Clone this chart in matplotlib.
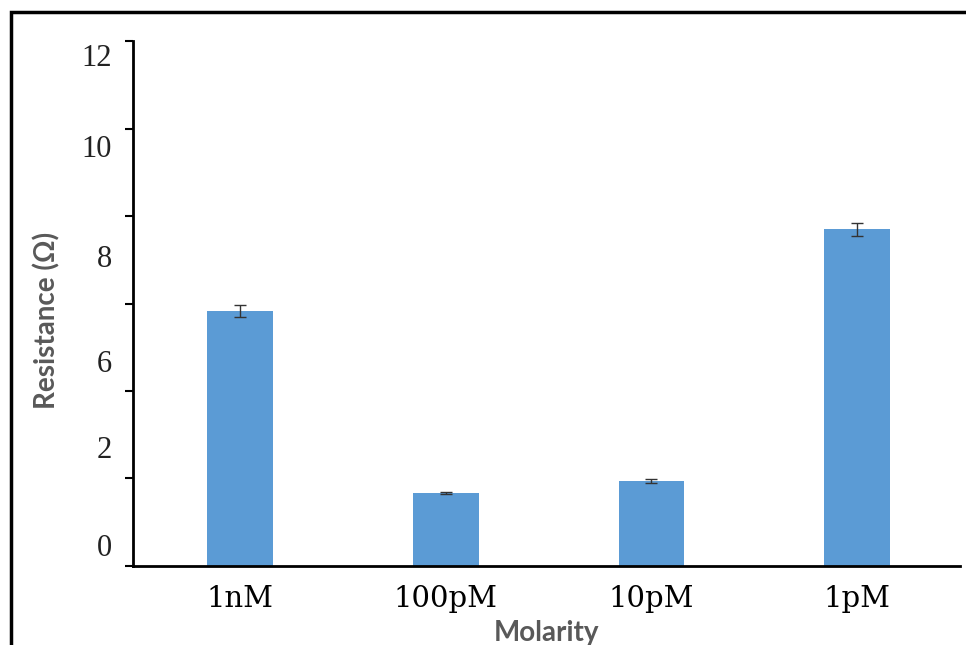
import matplotlib
matplotlib.use("Agg")
import matplotlib.pyplot as plt
from matplotlib.patches import Rectangle

# data
molarity = ['1nM', '100pM', '10pM', '1pM']
resistance = [5.83, 1.67, 1.94, 7.70]
err = [0.14, 0.03, 0.04, 0.15]

# the original's y tick marks and its (misplaced) tick labels
ytick_marks = [0, 2, 4, 6, 8, 10, 12]
ylabel_pos = [0.48, 2.72, 4.68, 7.09, 9.59, 11.69]
ylabel_txt = ['0', '2', '6', '8', '10', '12']

fig = plt.figure(figsize=(9.66, 6.45), dpi=100)
ax = fig.add_axes([0.1377, 0.1225, 0.8561, 0.8139])

x = range(len(molarity))
ax.bar(x, resistance, width=0.32, color='#5B9BD5', zorder=2)
ax.errorbar(x, resistance, yerr=err, fmt='none', ecolor='#333333',
            elinewidth=1, capsize=4, capthick=1, zorder=3)

ax.set_xlim(-0.52, 3.5)
ax.set_ylim(0, 12)
ax.spines['top'].set_visible(False)
ax.spines['right'].set_visible(False)
for s in ('left', 'bottom'):
    ax.spines[s].set_linewidth(2)
    ax.spines[s].set_color('black')

ax.set_xticks(list(x))
ax.set_xticklabels(molarity, fontfamily='DejaVu Serif', fontsize=21)
ax.tick_params(axis='x', length=0, pad=14)

ax.set_yticks(ytick_marks)
ax.set_yticklabels([''] * len(ytick_marks))
ax.tick_params(axis='y', which='major', direction='out', length=6, width=1.5)
ax.set_yticks(ylabel_pos, minor=True)
ax.set_yticklabels(ylabel_txt, minor=True, fontfamily='Liberation Serif',
                   fontsize=22, color='#222222')
ax.tick_params(axis='y', which='minor', length=0, pad=15)

ax.set_ylabel('Resistance (Ω)', fontfamily='Lato', fontweight='bold',
              fontsize=20, color='#595959')
ax.yaxis.set_label_coords(-0.088, 0.467)
ax.set_xlabel('Molarity', fontfamily='Lato', fontweight='bold',
              fontsize=20, color='#595959', labelpad=5)

# frame lines along the top and left of the picture
fig.patches.append(Rectangle((0.0113, -0.1), 1.2, 1.0814, transform=fig.transFigure,
                             fill=False, edgecolor='black', linewidth=2.5))

fig.savefig('out.png', dpi=100)
